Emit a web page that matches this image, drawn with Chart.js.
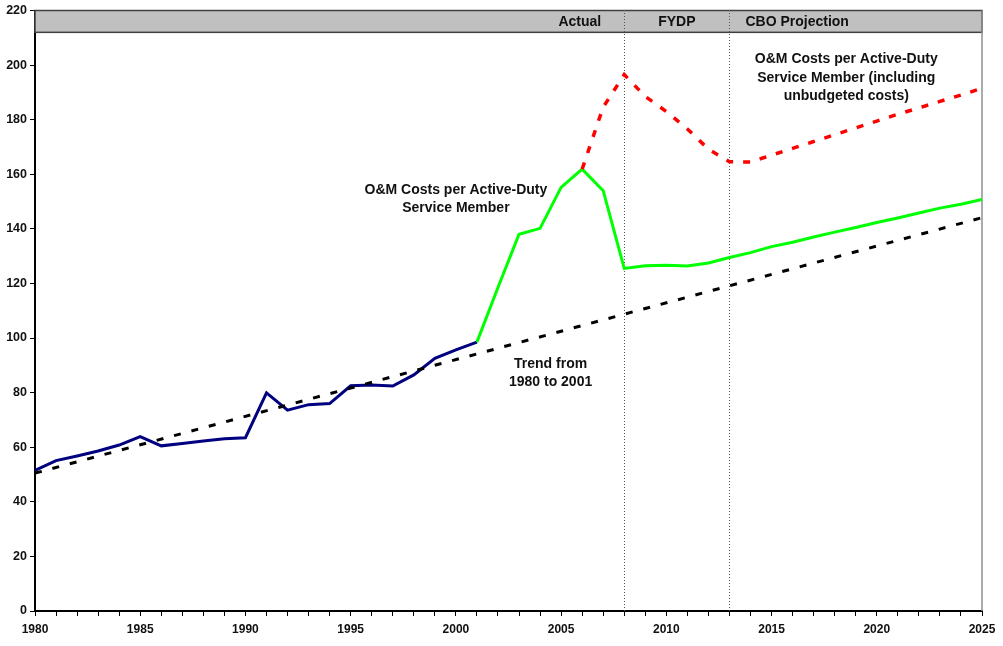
<!DOCTYPE html>
<html>
<head>
<meta charset="utf-8">
<script src="https://cdn.jsdelivr.net/npm/chart.js@4.4.1/dist/chart.umd.min.js"></script>
<style>
  html, body { margin: 0; padding: 0; background: #fff; }
</style>
</head>
<body>
<canvas id="chart" width="1003" height="646"></canvas>
<script>
// values (thousands of dollars per service member)
const actualYears = [1980,1981,1982,1983,1984,1985,1986,1987,1988,1989,1990,1991,1992,1993,1994,1995,1996,1997,1998,1999,2000,2001];
const actualCost = [51.5,55.1,56.8,58.6,60.8,63.9,60.5,61.4,62.3,63.1,63.5,79.9,73.6,75.6,76.0,82.5,82.8,82.4,86.5,92.6,95.7,98.5];

const budgetYears = [2001,2002,2003,2004,2005,2006,2007,2008,2009,2010,2011,2012,2013,2014,2015,2016,2017,2018,2019,2020,2021,2022,2023,2024,2025];
const budgetCost = [98.5,118.5,138.0,140.2,155.2,161.9,154.0,125.5,126.5,126.7,126.4,127.5,129.5,131.3,133.5,135.1,137.0,138.8,140.5,142.3,144.0,145.8,147.6,149.0,150.8];

const unbudgetedYears = [2006,2007,2008,2009,2010,2011,2012,2013,2014,2015,2016,2017,2018,2019,2020,2021,2022,2023,2024,2025];
const unbudgetedCost = [161.9,184.6,196.5,188.5,183.0,176.6,169.2,164.6,164.5,167.0,169.5,172.0,174.5,177.0,179.5,182.0,184.3,186.7,189.0,191.5];

const trendYears = [1980, 2025];
const trendCost = [50.5, 144.1];

const phaseBreaks = [2008, 2013];
const phaseLabels = ["Actual", "FYDP", "CBO Projection"];
const bandRange = [212, 220];

const FONT = "'Liberation Sans', Arial, Helvetica, sans-serif";

function pairs(xs, ys) {
  return xs.map((x, i) => ({ x: x, y: ys[i] }));
}

const notes = [
  { year: 2000, value: 154.3, lines: ["O&M Costs per Active-Duty", "Service Member"] },
  { year: 2004.5, value: 90.5, lines: ["Trend from", "1980 to 2001"] },
  { year: 2018.55, value: 202, lines: ["O&M Costs per Active-Duty", "Service Member (including", "unbudgeted costs)"] }
];

// gray band with the phase names, dotted phase lines, right frame
const framePlugin = {
  id: "frame",
  beforeDatasetsDraw(chart) {
    const ctx = chart.ctx;
    const area = chart.chartArea;
    const x = chart.scales.x, y = chart.scales.y;
    const bTop = y.getPixelForValue(bandRange[1]);
    const bBot = y.getPixelForValue(bandRange[0]);
    ctx.save();
    ctx.fillStyle = "#c0c0c0";
    ctx.fillRect(area.left, bTop, area.right - area.left, bBot - bTop);
    ctx.strokeStyle = "#404040";
    ctx.lineWidth = 1.5;
    ctx.strokeRect(area.left, bTop, area.right - area.left, bBot - bTop);

    // right edge
    ctx.strokeStyle = "#909090";
    ctx.lineWidth = 1.5;
    ctx.beginPath();
    ctx.moveTo(area.right, bTop);
    ctx.lineTo(area.right, area.bottom);
    ctx.stroke();

    // phase dividers
    ctx.strokeStyle = "#555";
    ctx.lineWidth = 1;
    ctx.setLineDash([1, 2]);
    phaseBreaks.forEach(yr => {
      const px = Math.floor(x.getPixelForValue(yr)) + 0.5;
      ctx.beginPath();
      ctx.moveTo(px, Math.floor(bTop));
      ctx.lineTo(px, area.bottom);
      ctx.stroke();
    });
    ctx.setLineDash([]);

    // phase labels
    ctx.fillStyle = "#111";
    ctx.font = "bold 14px " + FONT;
    ctx.textBaseline = "middle";
    const midY = (bTop + bBot) / 2 + 1;
    const b0 = x.getPixelForValue(phaseBreaks[0]);
    const b1 = x.getPixelForValue(phaseBreaks[1]);
    ctx.textAlign = "right";
    ctx.fillText(phaseLabels[0], b0 - 23, midY);
    ctx.textAlign = "center";
    ctx.fillText(phaseLabels[1], (b0 + b1) / 2, midY);
    ctx.textAlign = "left";
    ctx.fillText(phaseLabels[2], b1 + 16, midY);
    ctx.restore();
  },
  afterDatasetsDraw(chart) {
    const ctx = chart.ctx;
    const x = chart.scales.x, y = chart.scales.y;
    ctx.save();
    ctx.fillStyle = "#111";
    ctx.font = "bold 14px " + FONT;
    ctx.textAlign = "center";
    ctx.textBaseline = "middle";
    notes.forEach(n => {
      const cx = x.getPixelForValue(n.year);
      const cy = y.getPixelForValue(n.value);
      n.lines.forEach((t, i) => ctx.fillText(t, cx, cy + i * 18.5));
    });
    ctx.restore();
  }
};

new Chart("chart", {
  type: "line",
  data: {
    datasets: [{
      data: pairs(trendYears, trendCost),
      borderColor: "#000",
      borderWidth: 3,
      borderDash: [7, 11],
      pointRadius: 0,
      fill: false
    }, {
      data: pairs(unbudgetedYears, unbudgetedCost),
      borderColor: "#ff0000",
      borderWidth: 3.5,
      borderDash: [7, 10],
      pointRadius: 0,
      fill: false
    }, {
      data: pairs(budgetYears, budgetCost),
      borderColor: "#00ff00",
      borderWidth: 3,
      pointRadius: 0,
      fill: false
    }, {
      data: pairs(actualYears, actualCost),
      borderColor: "#000080",
      borderWidth: 3,
      pointRadius: 0,
      fill: false
    }]
  },
  options: {
    responsive: false,
    animation: false,
    layout: { padding: { top: 8, right: 21, left: 0, bottom: 0 } },
    plugins: {
      legend: { display: false },
      tooltip: { enabled: false }
    },
    scales: {
      x: {
        type: "linear",
        min: 1980,
        max: 2025,
        afterFit: s => { s.height = 35; },
        border: { color: "#000", width: 2 },
        grid: { drawOnChartArea: false, color: "#000", tickLength: 5, lineWidth: 1 },
        ticks: {
          stepSize: 1,
          autoSkip: false,
          maxTicksLimit: 100,
          maxRotation: 0,
          padding: 6,
          color: "#111",
          font: { family: FONT, size: 12, weight: "bold" },
          callback: v => (v % 5 === 0 ? String(v) : "")
        }
      },
      y: {
        min: 0,
        max: 220,
        afterFit: s => { s.width = 35; },
        border: { color: "#000", width: 2 },
        grid: { drawOnChartArea: false, color: "#000", tickLength: 5, lineWidth: 1 },
        ticks: {
          stepSize: 20,
          padding: 3,
          color: "#111",
          font: { family: FONT, size: 12.5, weight: "bold" }
        }
      }
    }
  },
  plugins: [framePlugin]
});
</script>
</body>
</html>
